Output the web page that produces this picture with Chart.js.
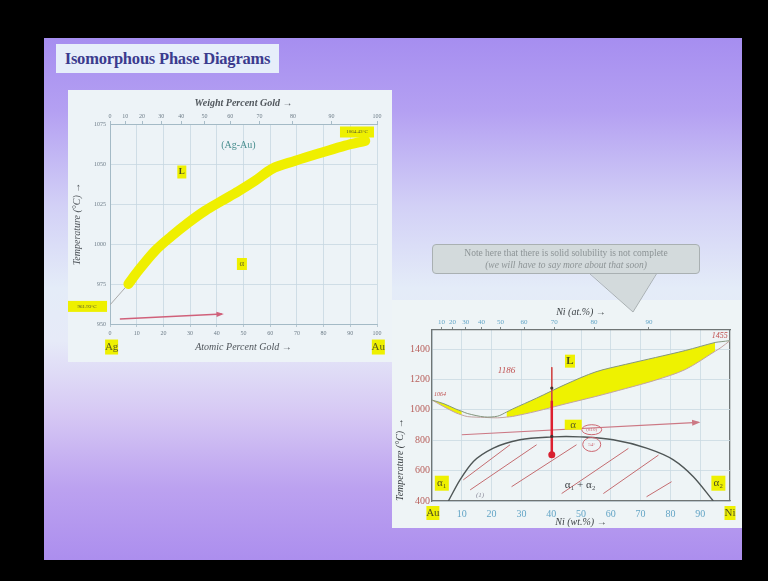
<!DOCTYPE html>
<html><head><meta charset="utf-8">
<script src="https://cdn.jsdelivr.net/npm/chart.js@4/dist/chart.umd.min.js"></script>
<style>
html,body{margin:0;padding:0;background:#000;width:768px;height:581px;overflow:hidden;position:relative}
#slide{position:absolute;left:44px;top:38px;width:698px;height:522px;
 background:linear-gradient(to bottom,#a68ef0 0%,#b4a0f2 14%,#d2d0f6 32%,#e4ecf8 48%,#e6eaf8 58%,#d6c8f4 72%,#bca2f0 86%,#ac8eee 100%);}
#title{position:absolute;left:56px;top:44px;width:223px;height:29px;background:#e6eefa;color:#3b3b8e;
 font:bold 16.5px 'Liberation Serif','DejaVu Serif',serif;line-height:29px;text-align:center;letter-spacing:-0.2px;white-space:nowrap}
#lp{position:absolute;left:68px;top:90px;width:324px;height:272px;background:#edf3f7}
#rp{position:absolute;left:392px;top:300px;width:350px;height:228px;background:#eef4f6}
canvas{position:absolute;left:0;top:0}
#callout{position:absolute;left:432px;top:244px;width:266px;height:28px;background:#d3dadc;border:1px solid #a9b0b2;border-radius:4px;
 color:#8d9496;font-family:'Liberation Serif','DejaVu Serif',serif;text-align:center;white-space:nowrap}
#callout .l1{position:absolute;left:0;right:0;top:2px;font-size:9.5px;line-height:12px}
#callout .l2{position:absolute;left:0;right:0;top:14px;font-size:9.5px;font-style:italic;line-height:12px}
svg{position:absolute;left:0;top:0}
</style></head>
<body>
<div id="slide"></div>
<div id="title">Isomorphous Phase Diagrams</div>
<div id="lp"><canvas id="cl" width="324" height="272"></canvas></div>
<div id="rp"><canvas id="cr" width="350" height="228"></canvas></div>
<svg width="768" height="581"><polygon points="589,272 657,272 633,312" fill="#d3dadc" stroke="none"/><polyline points="589,273 633,312 657,273" fill="none" stroke="#a9b0b2" stroke-width="1"/></svg>
<div id="callout"><div class="l1">Note here that there is solid solubility is not complete</div><div class="l2">(we will have to say more about that soon)</div></div>
<script>
// ---------- Ag-Au (left) ----------
const atPctTicks = [0,10,20,30,40,50,60,70,80,90,100];
const wtPctLabelsAg = [0,10,20,30,40,50,60,70,80,90,100];
const wtPctAtPosAg = [0,5.7,12.0,19.2,26.7,35.4,45.0,56.0,68.5,83.0,100];
const tempTicksAg = [950,975,1000,1025,1050,1075];
const bandAt = [6.9,10.6,16.9,23.1,29.3,35.6,41.9,48.1,54.4,60.6,69.4,79.4,88,95.6];
const bandT  = [975,983.3,995.8,1005,1013.3,1020.8,1027,1033,1039.6,1046.9,1052,1057.2,1061.5,1064.5];
const leadAt = [0,6.9];
const leadT  = [961.93,975];
const arrowAt = [3.7,41.9];
const arrowT  = [953.1,956.2];

// ---------- Au-Ni (right) ----------
const wtTicksNi = [0,10,20,30,40,50,60,70,80,90,100];
const atLabelsNi = [10,20,30,40,50,60,70,80,90];
const atPosNi = [3.2,6.9,11.3,16.6,23.0,30.9,41.0,54.4,72.8];
const tempTicksNi = [400,600,800,1000,1200,1400];
const wtNodes = [0,4,8,10,12,17.6,22,25,27,35,45,55,65,75,85,95,97,100];
const liqT = [1064,1040,1005,990,975,953,958,985,1005,1076,1169,1250,1299,1344,1390,1443,1448,1455];
const solT = [1064,1020,980,966,955,950,947,952,956,990,1040,1088,1140,1195,1265,1385,1410,1455];
const domeWt = [5.5,9.4,13.9,20.6,29.5,40.7,45,49.7,60.8,72,81,87.7,94.4];
const domeT  = [400,539,660,748,803,822,824,822,803,748,671,560,400];
const hatchStartWt = [10.5,12.8,26.7,43.5,57.5,72];
const hatchStartT  = [539,473,494,449,449,428];
const hatchEndWt   = [26.2,35.1,48.5,65.9,76,80.4];
const hatchEndT    = [770,770,770,746,702,527];
const probeWt = [40.2,40.2];
const probeT = [1280,700];
const probeBoldT = [1060,705];
const probeDotT = [705];
const probeMarkT = [1143,825];
const arrowNiWt = [10,89.4];
const arrowNiT = [836,917];

const serif = "'Liberation Serif','DejaVu Serif',serif";
Chart.defaults.font.family = serif;
Chart.defaults.animation = false;

function pts(xs, ys){ return xs.map((x,i)=>({x:x, y:ys[i]})); }
function sel(xs, ys, lo, hi){ const o=[]; xs.forEach((x,i)=>{ if(x>=lo && x<=hi) o.push({x:x,y:ys[i]}); }); return o; }

const annotPlugin = {
  id:'annot',
  afterDatasetsDraw(chart, args, opts){
    const ctx = chart.ctx, xs = chart.scales.x, ys = chart.scales.y;
    ctx.save();
    chart.data.datasets.forEach((ds,i)=>{
      if(!ds.arrowHead) return;
      const p = chart.getDatasetMeta(i).data; const a = p[p.length-2], b = p[p.length-1];
      const ang = Math.atan2(b.y-a.y, b.x-a.x), L = ds.arrowHead;
      ctx.fillStyle = ds.borderColor; ctx.beginPath(); ctx.moveTo(b.x+2*Math.cos(ang), b.y+2*Math.sin(ang));
      ctx.lineTo(b.x - L*Math.cos(ang-0.45), b.y - L*Math.sin(ang-0.45));
      ctx.lineTo(b.x - L*Math.cos(ang+0.45), b.y - L*Math.sin(ang+0.45));
      ctx.closePath(); ctx.fill();
    });
    (opts.ellipses||[]).forEach(e=>{
      ctx.strokeStyle = e.color; ctx.lineWidth = 1; ctx.beginPath();
      ctx.ellipse(xs.getPixelForValue(e.x), ys.getPixelForValue(e.y), e.rx, e.ry, 0, 0, Math.PI*2); ctx.stroke();
    });
    (opts.labels||[]).forEach(l=>{
      const px = xs.getPixelForValue(l.x), py = ys.getPixelForValue(l.y);
      ctx.font = l.font;
      const w = ctx.measureText(l.text).width;
      if(l.hl){ const bw = l.bw || (w + 4); const bh = l.bh || 12; ctx.fillStyle = l.hl; ctx.fillRect(px-bw/2, py-bh/2, bw, bh); }
      ctx.fillStyle = l.color; ctx.textAlign = 'center'; ctx.textBaseline = 'middle';
      ctx.fillText(l.text, px, py);
    });
    ctx.restore();
  }
};
const HL = '#eef000';
const plain = v => String(v);

// ---------------- Left chart ----------------
const lightGrid = '#c6d7e1';
new Chart(document.getElementById('cl'), {
  type:'line',
  data:{datasets:[
    {label:'Ag-Au liquidus/solidus', data:pts(bandAt,bandT), borderColor:'#efef00', borderWidth:10, borderCapStyle:'round', borderJoinStyle:'round', cubicInterpolationMode:'monotone', pointRadius:0, order:3},
    {label:'lead', data:pts(leadAt,leadT), borderColor:'#a9a9a9', borderWidth:1, pointRadius:0, order:4},
    {label:'arrow', data:pts(arrowAt,arrowT), borderColor:'#d0607a', borderWidth:1.5, pointRadius:0, arrowHead:6, order:1}
  ]},
  options:{
    responsive:false, devicePixelRatio:1,
    layout:{padding:{left:0,right:15,top:0,bottom:0}},
    plugins:{legend:{display:false}, tooltip:{enabled:false},
      annot:{labels:[
        {text:'(Ag-Au)', x:48.1, y:1061.9, font:'10px '+serif, color:'#4a8f90'},
        {text:'L', x:26.9, y:1045, font:'bold 9px '+serif, color:'#505020', hl:HL, bw:9, bh:13},
        {text:'α', x:49.4, y:987.5, font:'9px '+serif, color:'#707020', hl:HL, bw:10, bh:12},
        {text:'961.93°C', x:-8.6, y:961, font:'5px '+serif, color:'#555530', hl:HL, bw:40, bh:11},
        {text:'1064.43°C', x:92.5, y:1070, font:'5px '+serif, color:'#555530', hl:HL, bw:34, bh:11},
        {text:'Ag', x:0.6, y:935.6, font:'11px '+serif, color:'#5a5a20', hl:HL, bw:13, bh:15},
        {text:'Au', x:100.5, y:935.6, font:'11px '+serif, color:'#5a5a20', hl:HL, bw:13, bh:15}
      ]}},
    scales:{
      x:{type:'linear', position:'bottom', min:0, max:100,
        afterBuildTicks:s=>{ s.ticks = atPctTicks.map(v=>({value:v})); },
        afterFit:s=>{ s.height = 38; s.paddingLeft = 0; s.paddingRight = 0; },
        grid:{color:lightGrid, lineWidth:0.8, tickLength:3, tickColor:'#a8bcc8'},
        border:{color:'#a4bac6', width:1},
        ticks:{font:{size:6}, color:'#6d7c88', padding:3, maxRotation:0, autoSkip:false, callback:plain},
        title:{display:true, text:'Atomic Percent Gold →', font:{size:10, style:'italic'}, color:'#50565c', padding:{top:0,bottom:9}}
      },
      x2:{type:'linear', position:'top', min:0, max:100,
        afterBuildTicks:s=>{ s.ticks = wtPctAtPosAg.map(v=>({value:v})); },
        afterFit:s=>{ s.height = 34; s.paddingLeft = 0; s.paddingRight = 0; },
        grid:{drawOnChartArea:false, tickLength:3, tickColor:'#a8bcc8'},
        border:{color:'#a4bac6', width:1},
        ticks:{font:{size:6}, color:'#6d7c88', padding:1, maxRotation:0, autoSkip:false, callback:(v,i)=>String(wtPctLabelsAg[i])},
        title:{display:true, text:'Weight Percent Gold →', font:{size:10, style:'italic', weight:'bold'}, color:'#50565c', padding:{top:7,bottom:0}}
      },
      y:{type:'linear', position:'left', min:950, max:1075,
        afterBuildTicks:s=>{ s.ticks = tempTicksAg.map(v=>({value:v})); },
        afterFit:s=>{ s.width = 42; s.paddingTop = 0; s.paddingBottom = 0; },
        grid:{color:lightGrid, lineWidth:0.8, drawTicks:false},
        border:{color:'#a4bac6', width:1},
        ticks:{font:{size:6}, color:'#6d7c88', padding:4, callback:plain},
        title:{display:true, text:'Temperature (°C) →', font:{size:10, style:'italic'}, color:'#50565c', padding:{top:3,bottom:0}}
      }
    }
  },
  plugins:[annotPlugin]
});

// ---------------- Right chart ----------------
const gridR = '#c9d9e2', darkB = '#6f7575';
const hatchData = [];
hatchStartWt.forEach((x,i)=>{ hatchData.push({x:x,y:hatchStartT[i]}, {x:hatchEndWt[i],y:hatchEndT[i]}, {x:hatchEndWt[i],y:null}); });
new Chart(document.getElementById('cr'), {
  type:'line',
  data:{datasets:[
    {label:'L+α (Au side)', data:sel(wtNodes,liqT,0,10), borderWidth:0, borderColor:'rgba(0,0,0,0)', backgroundColor:'#eef200', fill:'+1', pointRadius:0, tension:0.3, order:20},
    {label:'solA', data:sel(wtNodes,solT,0,10), borderWidth:0, borderColor:'rgba(0,0,0,0)', pointRadius:0, tension:0.3, order:21},
    {label:'L+α (Ni side)', data:sel(wtNodes,liqT,25,96), borderWidth:0, borderColor:'rgba(0,0,0,0)', backgroundColor:'#eef200', fill:'+1', pointRadius:0, tension:0.3, order:22},
    {label:'solB', data:sel(wtNodes,solT,25,96), borderWidth:0, borderColor:'rgba(0,0,0,0)', pointRadius:0, tension:0.3, order:23},
    {label:'liquidus', data:pts(wtNodes,liqT), borderColor:'#84967e', borderWidth:1, pointRadius:0, tension:0.3, order:8},
    {label:'solidus', data:pts(wtNodes,solT), borderColor:'#c2a2a0', borderWidth:1, pointRadius:0, tension:0.3, order:9},
    {label:'miscibility gap', data:pts(domeWt,domeT), borderColor:'#4f5656', borderWidth:1.4, pointRadius:0, cubicInterpolationMode:'monotone', order:7},
    {label:'hatch', data:hatchData, borderColor:'#c46c70', borderWidth:1, pointRadius:0, spanGaps:false, order:6},
    {label:'arrow', data:pts(arrowNiWt,arrowNiT), borderColor:'#cc7884', borderWidth:1.2, pointRadius:0, arrowHead:7, order:5},
    {label:'probe', data:pts(probeWt,probeT), borderColor:'#d04848', borderWidth:1, pointRadius:0, order:4},
    {label:'probeBold', data:pts(probeWt,probeBoldT), borderColor:'#dd2030', borderWidth:2.5, pointRadius:0, order:3},
    {label:'probeDot', data:pts([probeWt[0]],probeDotT), showLine:false, pointRadius:3.5, pointBackgroundColor:'#d82030', pointBorderWidth:0, order:2},
    {label:'probeMarks', data:pts([probeWt[0],probeWt[0]],probeMarkT), showLine:false, pointRadius:1.6, pointBackgroundColor:'#403030', pointBorderWidth:0, order:1}
  ]},
  options:{
    responsive:false, devicePixelRatio:1,
    layout:{padding:{left:0,right:12,top:0,bottom:0}},
    plugins:{legend:{display:false}, tooltip:{enabled:false},
      annot:{
        ellipses:[{x:53.6, y:869, rx:10, ry:5, color:'#cc6670'},{x:53.6, y:772, rx:9, ry:7, color:'#cc6670'}],
        labels:[
          {text:'1064', x:2.7, y:1100, font:'italic 6px '+serif, color:'#c05050'},
          {text:'1186', x:25, y:1258, font:'italic 9px '+serif, color:'#c05050'},
          {text:'1455', x:96.6, y:1484, font:'italic 8px '+serif, color:'#c05050'},
          {text:'L', x:46.3, y:1320, font:'bold 11px '+serif, color:'#505020', hl:HL, bw:10, bh:13},
          {text:'α', x:47.4, y:902, font:'11px '+serif, color:'#606020', hl:HL, bw:17, bh:10},
          {text:'(810)', x:53.6, y:869, font:'5px '+serif, color:'#cc6670'},
          {text:'54°', x:53.6, y:772, font:'5px '+serif, color:'#cc6670'},
          {text:'α₁', x:3.3, y:517, font:'11px '+serif, color:'#505020', hl:HL, bw:14, bh:15},
          {text:'α₂', x:96.1, y:517, font:'11px '+serif, color:'#505020', hl:HL, bw:14, bh:15},
          {text:'α₁ + α₂', x:49.7, y:506, font:'11px '+serif, color:'#404448'},
          {text:'(1)', x:16.1, y:440, font:'italic 7px '+serif, color:'#8a8a9a'},
          {text:'Au', x:0.3, y:321, font:'11px '+serif, color:'#505020', hl:HL, bw:13, bh:14},
          {text:'Ni', x:100, y:321, font:'11px '+serif, color:'#505020', hl:HL, bw:11, bh:14}
        ]}},
    scales:{
      x:{type:'linear', position:'bottom', min:0, max:100,
        afterBuildTicks:s=>{ s.ticks = wtTicksNi.map(v=>({value:v})); },
        afterFit:s=>{ s.height = 27; s.paddingLeft = 0; s.paddingRight = 0; },
        grid:{color:c=>(c.tick && c.tick.value===100) ? darkB : gridR, lineWidth:c=>(c.tick && c.tick.value===100) ? 1.3 : 0.8, drawTicks:false},
        border:{color:darkB, width:1.3},
        ticks:{font:{size:10}, color:'#63a5c6', padding:7, maxRotation:0, autoSkip:false, callback:v=>(v===0||v===100)?'':String(v)},
        title:{display:true, text:'Ni (wt.%) →', font:{size:10, style:'italic'}, color:'#3e4448', padding:{top:0,bottom:0}}
      },
      x2:{type:'linear', position:'top', min:0, max:100,
        afterBuildTicks:s=>{ s.ticks = atPosNi.map(v=>({value:v})); },
        afterFit:s=>{ s.height = 30; s.paddingLeft = 0; s.paddingRight = 0; },
        grid:{drawOnChartArea:false, tickLength:3, tickColor:'#7f8888'},
        border:{color:darkB, width:1.3},
        ticks:{font:{size:7}, color:'#63a5c6', padding:1, maxRotation:0, autoSkip:false, callback:(v,i)=>String(atLabelsNi[i])},
        title:{display:true, text:'Ni (at.%) →', font:{size:10, style:'italic'}, color:'#3e4448', padding:{top:6,bottom:0}}
      },
      y:{type:'linear', position:'left', min:400, max:1525,
        afterBuildTicks:s=>{ s.ticks = tempTicksNi.map(v=>({value:v})); },
        afterFit:s=>{ s.width = 40; s.paddingTop = 0; s.paddingBottom = 0; },
        grid:{color:gridR, lineWidth:0.8, drawTicks:false},
        border:{color:darkB, width:1.3},
        ticks:{font:{size:10}, color:'#b8605c', padding:2, callback:plain},
        title:{display:true, text:'Temperature (°C) →', align:'start', font:{size:10, style:'italic'}, color:'#3e4448', padding:{top:2,bottom:0}}
      }
    }
  },
  plugins:[annotPlugin]
});
</script>
</body></html>
